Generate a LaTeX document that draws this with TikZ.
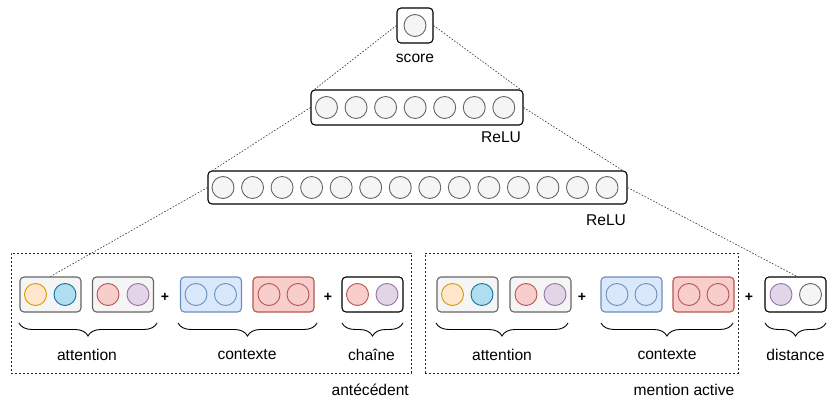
\documentclass[tikz,border=0pt]{standalone}
\usepackage{fontspec}
\setmainfont{Liberation Sans}
\usetikzlibrary{decorations.pathreplacing}

\definecolor{grayfill}{HTML}{F5F5F5}
\definecolor{graydraw}{HTML}{666666}
\definecolor{orangefill}{HTML}{FFE6CC}
\definecolor{orangedraw}{HTML}{D79B00}
\definecolor{bluefill}{HTML}{B1DDF0}
\definecolor{bluedraw}{HTML}{10739E}
\definecolor{redfill}{HTML}{F8CECC}
\definecolor{reddraw}{HTML}{B85450}
\definecolor{purplefill}{HTML}{E1D5E7}
\definecolor{purpledraw}{HTML}{9673A6}
\definecolor{lbluefill}{HTML}{DAE8FC}
\definecolor{lbluedraw}{HTML}{6C8EBF}

\tikzset{
  lbl/.style={font=\fontsize{15.6}{18}\selectfont, inner sep=0pt},
  plus/.style={font=\fontsize{14}{16}\selectfont\bfseries, inner sep=0pt},
  layerbox/.style={draw=black, fill=white, rounded corners=4pt, line width=1.1pt, inner sep=0pt},
  featbox/.style={rounded corners=4pt, line width=1.1pt, inner sep=0pt,
    minimum width=61pt, minimum height=35pt},
  graybox/.style={featbox, draw=graydraw, fill=grayfill},
  lbluebox/.style={featbox, draw=lbluedraw, fill=lbluefill},
  redbox/.style={featbox, draw=reddraw, fill=redfill},
  plainbox/.style={featbox, draw=black, fill=white},
  unit/.style={circle, minimum size=22pt, inner sep=0pt, line width=0.9pt},
  neuron/.style={unit, draw=graydraw, fill=grayfill},
  cOrange/.style={unit, draw=orangedraw, fill=orangefill},
  cBlue/.style={unit, draw=bluedraw, fill=bluefill},
  cRed/.style={unit, draw=reddraw, fill=redfill},
  cPurple/.style={unit, draw=purpledraw, fill=purplefill},
  cLblue/.style={unit, draw=lbluedraw, fill=lbluefill},
  cGray/.style={unit, draw=graydraw, fill=grayfill},
  link/.style={draw=black!80, line width=0.6pt, dash pattern=on 1.6pt off 1.6pt},
  groupbox/.style={draw=black!85, line width=0.7pt, dash pattern=on 2pt off 2pt},
  brc/.style={draw=black, line width=0.9pt,
    decorate, decoration={brace, mirror, amplitude=13pt}},
}

\begin{document}
\begin{tikzpicture}[x=1pt, y=-1pt]
\useasboundingbox (0,0) rectangle (827,398);

% ---- output unit ----
\node[layerbox, minimum width=36pt, minimum height=35pt] (score) at (415,25.5) {};
\node[neuron] (s1) at (415,25.5) {};
\node[lbl] (scoretxt) at (415,58) {score};

% ---- hidden layer 2 (7 units) ----
\node[layerbox, minimum width=212pt, minimum height=35pt] (h2) at (417,107.5) {};
\foreach \i in {0,...,6}
  \node[neuron] (h2u\i) at ({326.5+29.55*\i},107.5) {};
\node[lbl] (relu2) at (501,137) {ReLU};

% ---- hidden layer 1 (14 units) ----
\node[layerbox, minimum width=419pt, minimum height=33pt] (h1) at (417.5,187.5) {};
\foreach \i in {0,...,13}
  \node[neuron] (h1u\i) at ({223+29.54*\i},187.5) {};
\node[lbl] (relu1) at (606,220) {ReLU};

% ---- antecedent features ----
\node[graybox] (aA1) at (50.5,294.5) {};
\node[cOrange] at (35.5,294.5) {};
\node[cBlue] at (65,294.5) {};
\node[graybox] (aA2) at (123,294.5) {};
\node[cRed] at (108,294.5) {};
\node[cPurple] at (138,294.5) {};
\node[plus] (ap1) at (165,297) {+};
\node[lbluebox] (aC1) at (211,294.5) {};
\node[cLblue] at (196,294.5) {};
\node[cLblue] at (225.5,294.5) {};
\node[redbox] (aC2) at (283.5,294.5) {};
\node[cRed] at (269,294.5) {};
\node[cRed] at (298,294.5) {};
\node[plus] (ap2) at (328,297) {+};
\node[plainbox] (aCh) at (372.5,294.5) {};
\node[cRed] at (357.5,294.5) {};
\node[cPurple] at (387,294.5) {};

\draw[brc] (19,323) -- (157,323);
\draw[brc] (178,323) -- (317,323);
\draw[brc] (342,323) -- (403,323);
\node[lbl] (aatt) at (87,355) {attention};
\node[lbl] (actx) at (247,355) {contexte};
\node[lbl] (achn) at (371.5,355) {chaîne};

\node[groupbox, minimum width=400pt, minimum height=120pt, inner sep=0pt] (ante) at (211,313) {};
\node[lbl, anchor=east] (antetxt) at (409,389.5) {antécédent};

% ---- active mention features ----
\node[graybox] (mA1) at (467.5,294.5) {};
\node[cOrange] at (452.5,294.5) {};
\node[cBlue] at (482,294.5) {};
\node[graybox] (mA2) at (540.5,294.5) {};
\node[cRed] at (526,294.5) {};
\node[cPurple] at (555,294.5) {};
\node[plus] (mp1) at (582,297) {+};
\node[lbluebox] (mC1) at (631.5,294.5) {};
\node[cLblue] at (617,294.5) {};
\node[cLblue] at (646,294.5) {};
\node[redbox] (mC2) at (703.5,294.5) {};
\node[cRed] at (689,294.5) {};
\node[cRed] at (718,294.5) {};
\node[plus] (mp2) at (749,297) {+};
\node[plainbox] (dist) at (795.5,294.5) {};
\node[cPurple] at (781,294.5) {};
\node[cGray] at (810.5,294.5) {};

\draw[brc] (436,323) -- (568,323);
\draw[brc] (601,323) -- (733,323);
\draw[brc] (765,323) -- (826,323);
\node[lbl] (matt) at (502,355) {attention};
\node[lbl] (mctx) at (667,355) {contexte};
\node[lbl] (mdst) at (795.5,355) {distance};

\node[groupbox, minimum width=313pt, minimum height=120pt, inner sep=0pt] (ment) at (581.5,313) {};
\node[lbl] (menttxt) at (684,389.5) {mention active};

% ---- fan-in connectors ----
\draw[link] (score.west) -- ([xshift=4pt]h2.north west);
\draw[link] (score.east) -- ([xshift=-3pt]h2.north east);
\draw[link] (h2.west) -- ([xshift=5pt]h1.north west);
\draw[link] (h2.east) -- ([xshift=-5pt]h1.north east);
\draw[link] (h1.west) -- (aA1.north);
\draw[link] (h1.east) -- ([xshift=1.5pt]dist.north);
\end{tikzpicture}
\end{document}
